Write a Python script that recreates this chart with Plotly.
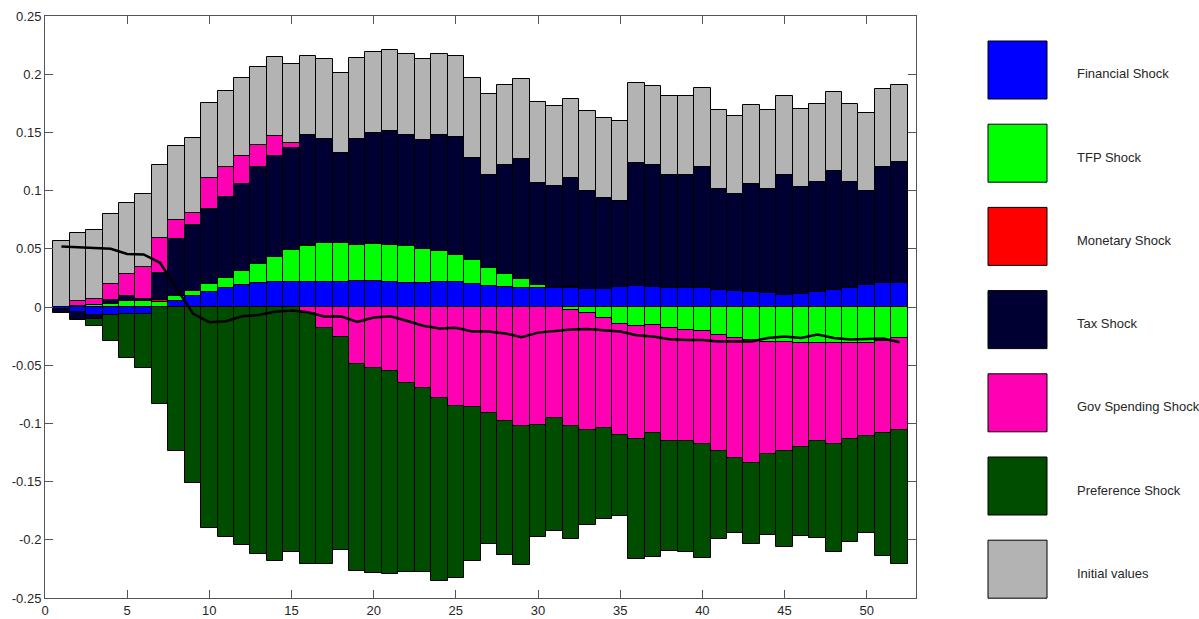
import plotly.graph_objects as go

periods = list(range(1, 53))

financial = [-0.0015, -0.0043, -0.0066, -0.0066, -0.0057, -0.0063, 0.0, 0.0055, 0.0095, 0.0125,
             0.0161, 0.0188, 0.0204, 0.0211, 0.0214, 0.0217, 0.0217, 0.0217, 0.0224, 0.0224,
             0.0217, 0.0207, 0.0204, 0.0211, 0.0211, 0.0194, 0.0181, 0.0168, 0.0161, 0.0161,
             0.0161, 0.0161, 0.0155, 0.0151, 0.0168, 0.0178, 0.0168, 0.0161, 0.0161, 0.0160,
             0.0148, 0.0141, 0.0125, 0.0118, 0.0105, 0.0112, 0.0128, 0.0148, 0.0164, 0.0188,
             0.0207, 0.0207]
tfp = [0.0, 0.0010, 0.0014, 0.0029, 0.0049, 0.0049, 0.0046, 0.0043, 0.0043, 0.0075,
       0.0092, 0.0125, 0.0168, 0.0220, 0.0279, 0.0306, 0.0332, 0.0332, 0.0312, 0.0315,
       0.0319, 0.0316, 0.0293, 0.0266, 0.0240, 0.0211, 0.0158, 0.0118, 0.0082, 0.0030,
       0.0, -0.0023, -0.0053, -0.0092, -0.0145, -0.0161, -0.0151, -0.0178, -0.0197, -0.0210,
       -0.0237, -0.0266, -0.0283, -0.0303, -0.0303, -0.0313, -0.0309, -0.0306, -0.0306, -0.0309,
       -0.0296, -0.0270]
monetary = [0.0, 0.0, 0.0, 0.0, 0.0, 0.0, 0.0017, 0.0, 0.0, 0.0,
            0.0, 0.0, 0.0, 0.0, 0.0, 0.0008, 0.0, 0.0, 0.0, 0.0008,
            0.0, 0.0, 0.0, 0.0, 0.0, 0.0, 0.0, 0.0, 0.0, 0.0,
            0.0, 0.0008, 0.0, 0.0, 0.0, 0.0, 0.0, 0.0, 0.0, 0.0,
            0.0, 0.0, 0.0, 0.0, 0.0, 0.0, 0.0, 0.0, 0.0, 0.0,
            0.0, 0.0]
tax = [-0.0035, -0.0072, -0.0034, 0.0029, 0.0046, 0.0023, 0.0227, 0.0488, 0.0563, 0.0645,
       0.0694, 0.0743, 0.0832, 0.0865, 0.0869, 0.0944, 0.0892, 0.0773, 0.0911, 0.0951,
       0.0977, 0.0954, 0.0937, 0.1000, 0.1013, 0.0875, 0.0796, 0.0931, 0.1027, 0.0875,
       0.0875, 0.0938, 0.0845, 0.0787, 0.0740, 0.1059, 0.1049, 0.0971, 0.0977, 0.1041,
       0.0868, 0.0829, 0.0934, 0.0898, 0.1033, 0.0918, 0.0948, 0.1023, 0.0912, 0.0809,
       0.1000, 0.1040]
gov_spending = [0.0, 0.0040, 0.0055, 0.0141, 0.0186, 0.0273, 0.0302, 0.0164, 0.0105, 0.0260,
                0.0254, 0.0240, 0.0184, 0.0171, 0.0046, -0.0049, -0.0184, -0.0257, -0.0487, -0.0526,
                -0.0549, -0.0655, -0.0694, -0.0786, -0.0849, -0.0859, -0.0914, -0.0977, -0.1026, -0.1013,
                -0.0954, -0.0997, -0.1000, -0.0951, -0.0954, -0.0977, -0.0931, -0.0977, -0.0954, -0.0966,
                -0.1003, -0.1033, -0.1059, -0.0963, -0.0934, -0.0894, -0.0839, -0.0875, -0.0826, -0.0800,
                -0.0790, -0.0786]
preference = [0.0, 0.0, -0.0063, -0.0230, -0.0383, -0.0457, -0.0836, -0.1237, -0.1516, -0.1895,
              -0.1980, -0.2043, -0.2125, -0.2184, -0.2109, -0.2155, -0.2026, -0.1832, -0.1783, -0.1757,
              -0.1741, -0.1621, -0.1582, -0.1569, -0.1480, -0.1325, -0.1119, -0.1155, -0.1188, -0.0961,
              -0.0967, -0.0970, -0.0822, -0.0776, -0.0700, -0.1026, -0.1066, -0.0940, -0.0954, -0.0981,
              -0.0750, -0.0642, -0.0691, -0.0695, -0.0829, -0.0763, -0.0839, -0.0924, -0.0888, -0.0829,
              -0.1055, -0.1154]
initial_values = [0.0569, 0.0585, 0.0595, 0.0597, 0.0610, 0.0622, 0.0628, 0.0635, 0.0648, 0.0651,
                  0.0658, 0.0668, 0.0671, 0.0678, 0.0678, 0.0678, 0.0687, 0.0685, 0.0691, 0.0691,
                  0.0694, 0.0694, 0.0694, 0.0694, 0.0691, 0.0690, 0.0691, 0.0691, 0.0687, 0.0691,
                  0.0691, 0.0684, 0.0688, 0.0684, 0.0687, 0.0684, 0.0681, 0.0684, 0.0678, 0.0677,
                  0.0675, 0.0675, 0.0675, 0.0675, 0.0671, 0.0674, 0.0671, 0.0674, 0.0671, 0.0667,
                  0.0665, 0.0658]
total = [0.0520, 0.0513, 0.0505, 0.0500, 0.0455, 0.0452, 0.0380, 0.0165, -0.0056, -0.0130,
         -0.0122, -0.0079, -0.0069, -0.0040, -0.0030, -0.0046, -0.0082, -0.0080, -0.0128, -0.0090,
         -0.0080, -0.0118, -0.0161, -0.0184, -0.0178, -0.0210, -0.0210, -0.0227, -0.0260, -0.0220,
         -0.0204, -0.0194, -0.0188, -0.0197, -0.0210, -0.0243, -0.0253, -0.0276, -0.0283, -0.0283,
         -0.0296, -0.0296, -0.0296, -0.0266, -0.0253, -0.0266, -0.0237, -0.0266, -0.0280, -0.0275,
         -0.0270, -0.0303]

series_names = ["Financial Shock", "TFP Shock", "Monetary Shock", "Tax Shock",
                "Gov Spending Shock", "Preference Shock", "Initial values"]
series_values = [financial, tfp, monetary, tax, gov_spending, preference, initial_values]
series_colors = ["#0000ff", "#00ff00", "#ff0000", "#000033", "#ff00b3", "#004d00", "#b3b3b3"]

y_tickvals = [0.25, 0.2, 0.15, 0.1, 0.05, 0, -0.05, -0.1, -0.15, -0.2, -0.25]
y_ticktext = ["0.25", "0.2", "0.15", "0.1", "0.05", "0", "-0.05", "-0.1", "-0.15", "-0.2", "-0.25"]
x_tickvals = [0, 5, 10, 15, 20, 25, 30, 35, 40, 45, 50]

fig = go.Figure()
for name, vals, col in zip(series_names, series_values, series_colors):
    fig.add_trace(go.Bar(
        x=periods, y=[v if v != 0 else None for v in vals], name=name,
        marker=dict(color=col, line=dict(color="#000000", width=1)),
        width=1.0, showlegend=False))

fig.add_trace(go.Scatter(x=periods, y=total, mode="lines",
                         line=dict(color="#000000", width=2.5), showlegend=False))

# plot area in pixels
W_FIG, H_FIG = 1199, 619
L, R, T, B = 45, 916, 16, 598
PW, PH = R - L, B - T

def px_x(px):
    return (px - L) / PW

def px_y(py):
    return (B - py) / PH

shapes = []
annotations = []
box_left, box_right = 988, 1047
for i, (name, col) in enumerate(zip(series_names, series_colors)):
    top = 41 + i * 83.2
    bottom = top + 58
    shapes.append(dict(type="rect", xref="paper", yref="paper",
                       x0=px_x(box_left), x1=px_x(box_right),
                       y0=px_y(bottom), y1=px_y(top),
                       fillcolor=col, line=dict(color="#000000", width=1)))
    annotations.append(dict(xref="paper", yref="paper", x=px_x(1075), y=px_y(top + 33),
                            text=name, showarrow=False, xanchor="left", yanchor="middle",
                            font=dict(family="Liberation Sans, Arial, sans-serif", size=13,
                                      color="#262626")))

axis_common = dict(showline=True, linecolor="#555555", linewidth=1, mirror="ticks",
                   ticks="inside", ticklen=8, tickcolor="#555555", showgrid=False,
                   zeroline=False, automargin=False,
                   tickfont=dict(family="Liberation Sans, Arial, sans-serif", size=13,
                                 color="#262626"))

fig.update_layout(
    width=W_FIG, height=H_FIG,
    margin=dict(l=L, r=W_FIG - R, t=T, b=H_FIG - B, pad=0, autoexpand=False),
    barmode="relative", bargap=0,
    plot_bgcolor="#ffffff", paper_bgcolor="#ffffff",
    xaxis=dict(range=[0, 53], tickvals=x_tickvals, **axis_common),
    yaxis=dict(range=[-0.25, 0.25], tickvals=y_tickvals, ticktext=y_ticktext, **axis_common),
    shapes=shapes, annotations=annotations,
)

fig.write_html("out.html",
               config={"displayModeBar": False},
               post_script="document.body.style.margin='0px';document.body.style.padding='0px';document.body.style.overflow='hidden';")
